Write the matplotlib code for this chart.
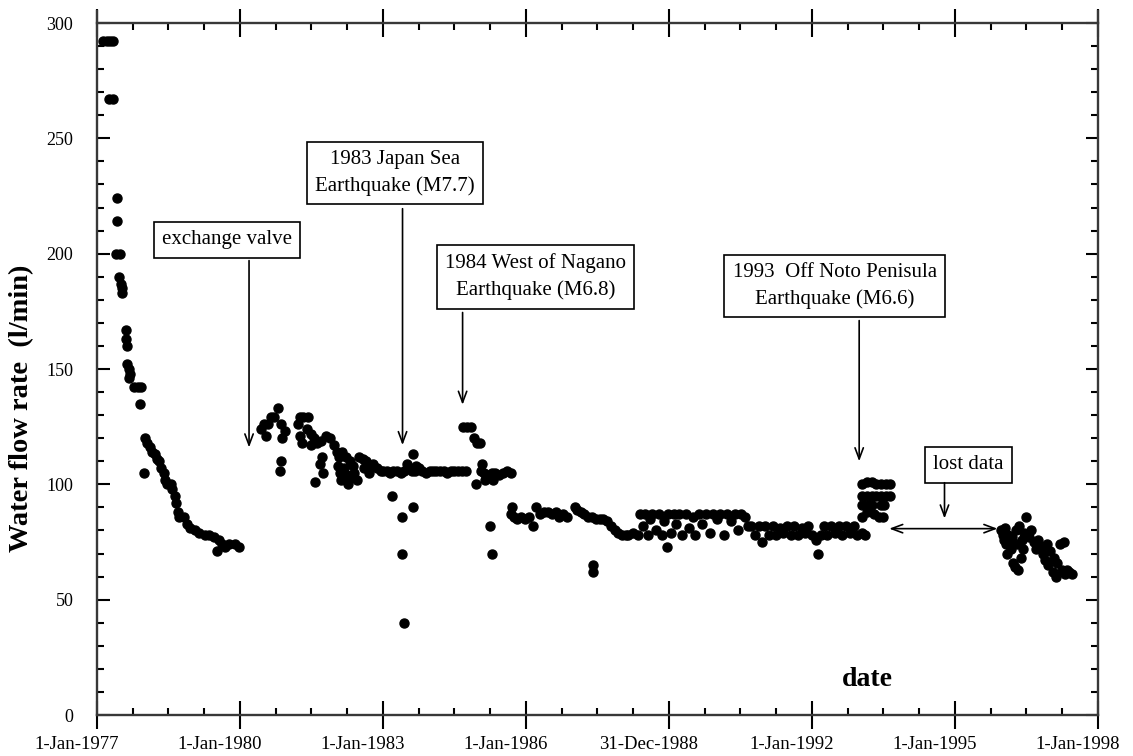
import matplotlib
matplotlib.use('Agg')
import matplotlib.pyplot as plt
from matplotlib.ticker import MultipleLocator
from matplotlib.transforms import ScaledTranslation

plt.rcParams['font.family'] = ['Liberation Serif', 'DejaVu Serif']

# Decay after the start of observation (decimal year, flow l/min)
years_1977 = [1977.13, 1977.20, 1977.27, 1977.33, 1977.25, 1977.33, 1977.41, 1977.41,
              1977.40, 1977.48, 1977.47, 1977.50, 1977.52, 1977.53, 1977.60, 1977.60,
              1977.63, 1977.63, 1977.67, 1977.70, 1977.68, 1977.77, 1977.85, 1977.92,
              1977.90, 1977.98, 1978.00, 1978.05, 1978.12, 1978.15, 1978.22, 1978.25,
              1978.30, 1978.35, 1978.40, 1978.43, 1978.47, 1978.55, 1978.58, 1978.63,
              1978.66, 1978.70, 1978.73, 1978.82, 1978.88, 1978.95, 1979.05, 1979.15,
              1979.26, 1979.35, 1979.45, 1979.55, 1979.52, 1979.62, 1979.68, 1979.78,
              1979.90, 1979.97]
flow_1977 = [292, 292, 292, 292, 267, 267, 224, 214,
             200, 200, 190, 187, 185, 183, 167, 163,
             160, 152, 150, 148, 146, 142, 142, 142,
             135, 105, 120, 118, 116, 114, 113, 111,
             110, 107, 105, 102, 100, 100, 98, 95,
             92, 88, 86, 86, 83, 81, 80, 79,
             78, 78, 77, 76, 71, 74, 73, 74,
             74, 73]

# After the valve exchange up to 1985
years_1980 = [1980.45, 1980.50, 1980.55, 1980.58, 1980.65, 1980.72, 1980.80, 1980.86,
              1980.88, 1980.95, 1980.86, 1980.84,
              1981.25, 1981.33, 1981.42, 1981.22, 1981.25, 1981.30, 1981.40, 1981.48,
              1981.55, 1981.50, 1981.62, 1981.70, 1981.80, 1981.88, 1981.97, 1981.68,
              1981.72, 1981.57, 1981.75,
              1982.03, 1982.08, 1982.15, 1982.22, 1982.30, 1982.05, 1982.10, 1982.12,
              1982.18, 1982.25, 1982.26, 1982.32, 1982.40, 1982.45, 1982.38,
              1982.50, 1982.58, 1982.65, 1982.72, 1982.80, 1982.88, 1982.95, 1982.60,
              1982.70,
              1983.00, 1983.08, 1983.15, 1983.22, 1983.30, 1983.38, 1983.45, 1983.52,
              1983.60, 1983.68, 1983.75, 1983.82, 1983.90, 1983.98, 1984.05, 1984.12,
              1984.20, 1984.28, 1984.35, 1984.42, 1984.50, 1984.58, 1984.66, 1984.74,
              1983.63, 1983.50, 1983.70,
              1983.18, 1983.39, 1983.63, 1983.39, 1983.44,
              1984.68, 1984.76, 1984.84, 1984.90, 1984.98, 1985.04, 1985.07, 1984.96,
              1985.05, 1985.12, 1985.20, 1985.28, 1985.36, 1985.44, 1985.52, 1985.60,
              1985.68, 1985.15, 1985.30,
              1985.24, 1985.28]
flow_1980 = [124, 126, 121, 126, 129, 129, 133, 126,
             120, 123, 110, 106,
             129, 129, 129, 126, 121, 118, 124, 122,
             120, 117, 118, 119, 121, 120, 117, 109,
             112, 101, 105,
             114, 112, 114, 112, 110, 108, 105, 102,
             107, 104, 100, 103, 105, 102, 108,
             112, 111, 110, 108, 109, 107, 106, 107,
             105,
             106, 106, 105, 106, 106, 105, 106, 107,
             106, 106, 107, 106, 105, 106, 106, 106,
             106, 106, 105, 106, 106, 106, 106, 106,
             113, 109, 108,
             95, 86, 90, 70, 40,
             125, 125, 125, 120, 118, 118, 109, 100,
             106, 105, 104, 105, 105, 104, 105, 106,
             105, 102, 102,
             82, 70]

# 1986 to late 1992
years_1986 = [1985.70, 1985.68, 1985.75, 1985.82, 1985.90, 1985.98, 1986.06, 1986.14,
              1986.22, 1986.30, 1986.38, 1986.46, 1986.54, 1986.62, 1986.70, 1986.78,
              1986.86, 1987.02, 1987.08, 1987.15, 1987.22, 1987.30, 1987.38, 1987.46,
              1987.55, 1987.62, 1987.70, 1987.78, 1987.86, 1987.94, 1988.02, 1988.10,
              1987.40, 1987.40,
              1988.15, 1988.25, 1988.35, 1988.40, 1988.45, 1988.50, 1988.55, 1988.60,
              1988.65, 1988.72, 1988.78, 1988.85, 1988.90, 1988.95, 1988.98, 1989.05,
              1989.10, 1989.15, 1989.22, 1989.28, 1989.35, 1989.43, 1989.50, 1989.55,
              1989.62, 1989.70, 1989.78, 1989.85, 1989.92, 1990.00, 1990.08, 1990.15,
              1990.22, 1990.30, 1990.38, 1990.45, 1990.52, 1990.60, 1990.66, 1990.72,
              1990.80, 1990.88, 1990.96, 1991.02, 1991.10, 1991.18, 1991.25, 1991.32,
              1991.40, 1991.48, 1991.55, 1991.62, 1991.70, 1991.78, 1991.85, 1991.92,
              1992.00, 1992.08, 1992.12, 1992.18, 1992.25, 1992.32, 1992.40, 1992.48,
              1992.56, 1992.64, 1992.72, 1992.80, 1992.88, 1992.95, 1993.05, 1993.12]
flow_1986 = [90, 87, 86, 85, 86, 85, 86, 82,
             90, 87, 88, 88, 87, 88, 86, 87,
             86, 90, 89, 88, 87, 86, 86, 85,
             85, 85, 84, 82, 80, 79, 78, 78,
             65, 62,
             78, 79, 78, 87, 82, 87, 78, 85,
             87, 80, 87, 78, 84, 73, 87, 79,
             87, 83, 87, 78, 87, 81, 86, 78,
             87, 83, 87, 79, 87, 85, 87, 78,
             87, 84, 87, 80, 87, 86, 82, 82,
             78, 82, 75, 82, 78, 82, 78, 81,
             79, 82, 78, 82, 78, 81, 79, 82,
             78, 76, 70, 78, 82, 78, 82, 79,
             82, 78, 82, 79, 82, 78, 79, 78]

# Jump after the 1993 Noto earthquake
years_1993 = [1993.05, 1993.15, 1993.25, 1993.35, 1993.45, 1993.55, 1993.63,
              1993.05, 1993.15, 1993.25, 1993.35, 1993.45, 1993.55, 1993.63,
              1993.05, 1993.15, 1993.25, 1993.45, 1993.52,
              1993.05, 1993.15, 1993.30, 1993.40, 1993.50]
flow_1993 = [100, 101, 101, 100, 100, 100, 100,
             95, 95, 95, 95, 95, 95, 95,
             91, 91, 91, 91, 91,
             86, 88, 87, 86, 86]

# After the data gap
years_1996 = [1995.97, 1996.00, 1996.03, 1996.05, 1996.08, 1996.10, 1996.12, 1996.15,
              1996.18, 1996.20, 1996.22, 1996.25, 1996.28, 1996.30, 1996.32, 1996.35,
              1996.38, 1996.40, 1996.42, 1996.45, 1996.50, 1996.55, 1996.60, 1996.65,
              1996.70, 1996.75, 1996.80, 1996.85, 1996.88, 1996.92, 1996.95, 1997.00,
              1997.05, 1997.08, 1997.12, 1997.15, 1997.20, 1997.25, 1997.28, 1997.30,
              1997.35, 1997.40, 1997.45]
flow_1996 = [80, 78, 76, 81, 74, 70, 78, 75,
             72, 77, 66, 64, 80, 74, 63, 82,
             68, 76, 72, 79, 86, 77, 80, 75,
             72, 76, 73, 70, 67, 74, 65, 71,
             62, 68, 60, 66, 74, 63, 75, 61,
             63, 62, 61]

tick_years = [1977, 1980, 1983, 1986, 1989, 1992, 1995, 1998]
tick_labels = ['1-Jan-1977', '1-Jan-1980', '1-Jan-1983', '1-Jan-1986',
               '31-Dec-1988', '1-Jan-1992', '1-Jan-1995', '1-Jan-1998']

fig = plt.figure(figsize=(11.33, 7.56), dpi=100)
ax = fig.add_axes([0.0856, 0.0542, 0.8835, 0.9306])

for xs, ys in [(years_1977, flow_1977), (years_1980, flow_1980), (years_1986, flow_1986),
               (years_1993, flow_1993), (years_1996, flow_1996)]:
    ax.plot(xs, ys, 'o', color='black', ms=6.5, linestyle='none')

ax.set_xlim(1977, 1998)
ax.set_ylim(0, 305)
ax.spines['top'].set_position(('data', 300))
for sp in ax.spines.values():
    sp.set_linewidth(1.7)
    sp.set_color('#383838')

ax.set_xticks(tick_years)
ax.set_xticklabels(tick_labels, fontsize=13.5)
ax.xaxis.set_minor_locator(MultipleLocator(0.75))
ax.yaxis.set_minor_locator(MultipleLocator(10))
ax.set_yticks([0, 50, 100, 150, 200, 250, 300])
ax.tick_params(axis='x', which='major', direction='inout', length=20, width=1.5,
               top=True, pad=5)
ax.tick_params(axis='x', which='minor', direction='in', length=5, width=1.5, top=True)
ax.tick_params(axis='y', which='major', direction='in', length=9, width=1.5,
               right=True, labelsize=13, pad=17)
ax.tick_params(axis='y', which='minor', direction='in', length=5, width=1.5, right=True)

# date labels sit a little left of their ticks in the original
shift = ScaledTranslation(-20 / 100, 0, fig.dpi_scale_trans)
for lab in ax.get_xticklabels():
    lab.set_transform(lab.get_transform() + shift)

fig.text(22 / 1133, 1 - 408 / 756, 'Water flow rate  (l/min)', rotation=90,
         fontsize=20.5, fontweight='bold', ha='center', va='center')
ax.text(1993.16, 15.5, 'date', fontsize=20, fontweight='bold', ha='center', va='center')

box = dict(boxstyle='square,pad=0.4', facecolor='white', edgecolor='black', linewidth=1.2)
arrow = dict(arrowstyle='->,head_length=0.8,head_width=0.3', color='black', lw=1.2,
             shrinkA=0, shrinkB=0)

ax.text(1979.73, 206, 'exchange valve', fontsize=15, ha='center', va='center', bbox=box)
ax.annotate('', xy=(1980.19, 116), xytext=(1980.19, 197), arrowprops=arrow)

ax.text(1983.25, 235, '1983 Japan Sea\nEarthquake (M7.7)', fontsize=15,
        ha='center', va='center', bbox=box, linespacing=1.5)
ax.annotate('', xy=(1983.41, 117), xytext=(1983.41, 219.5), arrowprops=arrow)

ax.text(1986.20, 190, '1984 West of Nagano\nEarthquake (M6.8)', fontsize=15,
        ha='center', va='center', bbox=box, linespacing=1.5)
ax.annotate('', xy=(1984.67, 134.5), xytext=(1984.67, 174.5), arrowprops=arrow)

ax.text(1992.48, 186, '1993  Off Noto Penisula\nEarthquake (M6.6)', fontsize=15,
        ha='center', va='center', bbox=box, linespacing=1.5)
ax.annotate('', xy=(1992.99, 110), xytext=(1992.99, 171), arrowprops=arrow)

ax.text(1995.28, 108.5, 'lost data', fontsize=15, ha='center', va='center', bbox=box)
ax.annotate('', xy=(1994.78, 85.2), xytext=(1994.78, 100.7), arrowprops=arrow)
ax.annotate('', xy=(1995.89, 80.8), xytext=(1993.62, 80.8),
            arrowprops=dict(arrowstyle='<->,head_length=0.8,head_width=0.3', color='black',
                            lw=1.2, shrinkA=0, shrinkB=0))

fig.savefig('out.png', dpi=100)
